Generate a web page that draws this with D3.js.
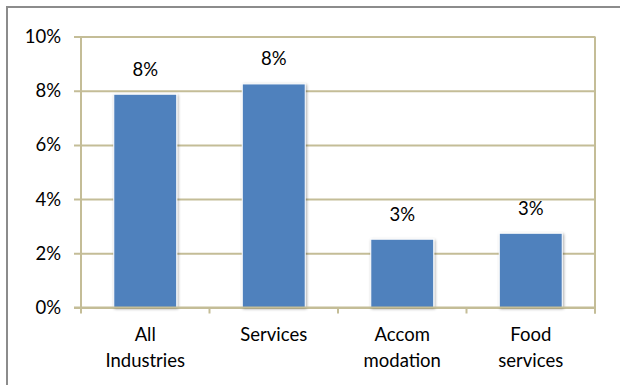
<!DOCTYPE html>
<html>
<head>
<meta charset="utf-8">
<script src="https://cdn.jsdelivr.net/npm/d3@7"></script>
<style>
  html, body { margin: 0; padding: 0; background: #fff; }
  svg { display: block; }
  text { font-family: Lato, "Open Sans", sans-serif; fill: #000; }
</style>
</head>
<body>
<svg id="chart" width="620" height="385"></svg>
<script>
// Category names (split over two lines where wrapped)
const categories = ["All Industries", "Services", "Accommodation", "Food services"];
const categoryLines = [["All", "Industries"], ["Services"], ["Accom", "modation"], ["Food", "services"]];
// Share of each group (percent)
const values = [7.87, 8.25, 2.52, 2.74];
// Value labels shown above bars
const valueLabels = ["8%", "8%", "3%", "3%"];
// Y axis ticks (percent)
const yTicks = [0, 2, 4, 6, 8, 10];

const svg = d3.select("#chart");
const W = 620, H = 385;
const margin = { left: 81, right: 25, top: 36.5, bottom: 77.5 };
const plotW = W - margin.left - margin.right;
const plotH = H - margin.top - margin.bottom;
const gridColor = "#C4BD97";
const fontSize = "18.5px";

// Outer frame
svg.append("rect")
  .attr("x", 7).attr("y", 7)
  .attr("width", W).attr("height", H)
  .attr("fill", "none").attr("stroke", "#8c8c8c").attr("stroke-width", 2);

// Bar shadow
const defs = svg.append("defs");
const f = defs.append("filter").attr("id", "shadow")
  .attr("x", "-20%").attr("y", "-20%").attr("width", "140%").attr("height", "140%");
f.append("feGaussianBlur").attr("in", "SourceAlpha").attr("stdDeviation", 1.6).attr("result", "b");
f.append("feOffset").attr("in", "b").attr("dx", 1).attr("dy", 1).attr("result", "o");
f.append("feComponentTransfer").attr("in", "o").attr("result", "s")
  .append("feFuncA").attr("type", "linear").attr("slope", 0.35);
const fm = f.append("feMerge");
fm.append("feMergeNode").attr("in", "s");
fm.append("feMergeNode").attr("in", "SourceGraphic");

const g = svg.append("g").attr("transform", `translate(${margin.left},${margin.top})`);

const x = d3.scaleBand().domain(categories).range([0, plotW]).paddingInner(0.51).paddingOuter(0.255);
const y = d3.scaleLinear().domain([0, 10]).range([plotH, 0]);

// Horizontal gridlines with left tick marks
const yAxis = d3.axisLeft(y).tickValues(yTicks).tickSize(-plotW).tickSizeOuter(0)
  .tickFormat(d => d + "%").tickPadding(20);
const ya = g.append("g").call(yAxis);
ya.select(".domain").remove();
ya.selectAll(".tick line").attr("x1", -7).attr("stroke", gridColor).attr("stroke-width", 2);
ya.selectAll(".tick text").style("font-size", fontSize).style("font-family", "Lato, sans-serif").attr("fill", "#000");

// Vertical axis line and right border
g.append("line").attr("x1", 0).attr("x2", 0).attr("y1", 0).attr("y2", plotH)
  .attr("stroke", gridColor).attr("stroke-width", 2);
g.append("line").attr("x1", plotW).attr("x2", plotW).attr("y1", 0).attr("y2", plotH + 6)
  .attr("stroke", gridColor).attr("stroke-width", 2);

// Category boundary ticks on the x axis
const bounds = d3.range(categories.length + 1).map(i => i * plotW / categories.length);
g.selectAll(".xtick").data(bounds).join("line")
  .attr("x1", d => d).attr("x2", d => d).attr("y1", plotH).attr("y2", plotH + 6)
  .attr("stroke", gridColor).attr("stroke-width", 2);

// Bars
g.selectAll(".bar").data(values).join("rect")
  .attr("x", (d, i) => x(categories[i]))
  .attr("y", d => y(d))
  .attr("width", x.bandwidth())
  .attr("height", d => plotH - y(d))
  .attr("fill", "#4F81BD")
  .attr("stroke", "#ffffff").attr("stroke-width", 1)
  .attr("filter", "url(#shadow)");

// Baseline on top of bars
g.append("line").attr("x1", -7).attr("x2", plotW).attr("y1", plotH).attr("y2", plotH)
  .attr("stroke", gridColor).attr("stroke-width", 2);

// Value labels
g.selectAll(".vlabel").data(values).join("text")
  .attr("x", (d, i) => x(categories[i]) + x.bandwidth() / 2)
  .attr("y", d => y(d) - 18.5)
  .attr("text-anchor", "middle")
  .style("font-size", fontSize)
  .text((d, i) => valueLabels[i]);

// Category labels
categories.forEach((c, i) => {
  const cx = x(c) + x.bandwidth() / 2;
  const t = g.append("text").attr("text-anchor", "middle").style("font-size", fontSize);
  categoryLines[i].forEach((line, j) => {
    t.append("tspan").attr("x", cx).attr("y", plotH + 33 + j * 26).text(line);
  });
});
</script>
</body>
</html>
